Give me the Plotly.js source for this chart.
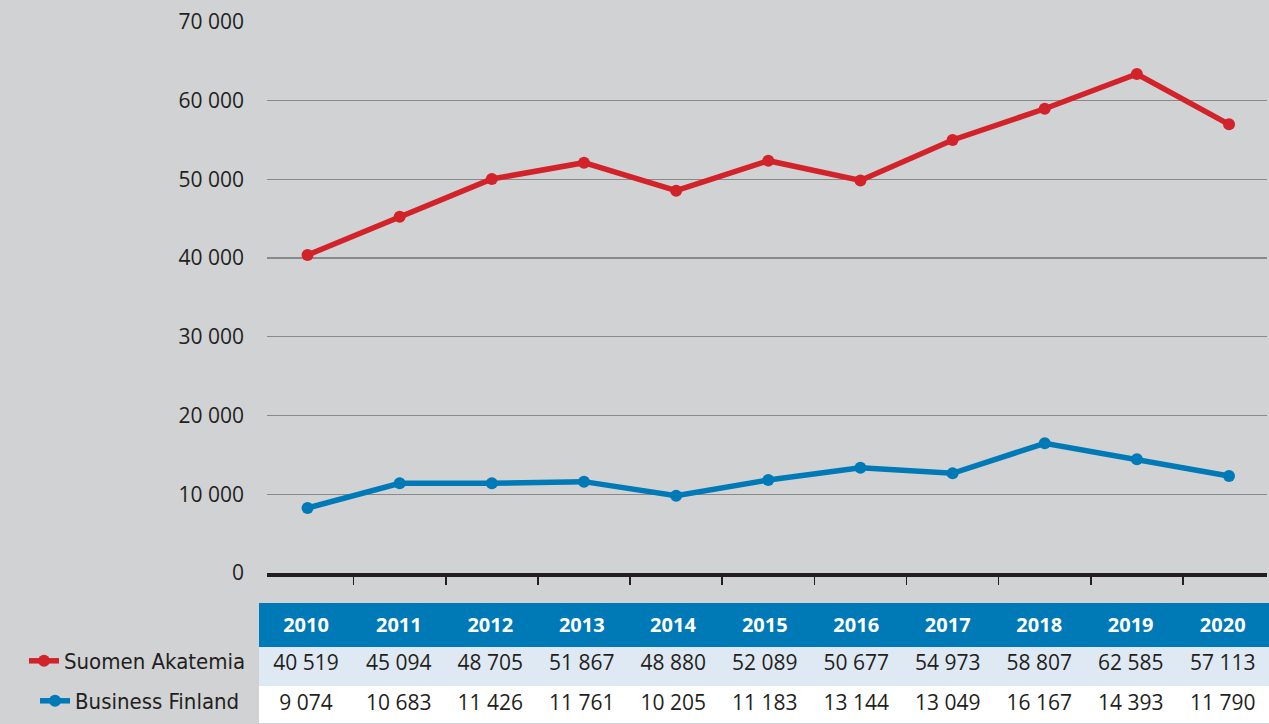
<!DOCTYPE html>
<html>
<head>
<meta charset="utf-8">
<script src="https://cdn.plot.ly/plotly-3.0.1.min.js"></script>
<style>
html,body{margin:0;padding:0;background:#d1d2d4;}
#chart{width:1269px;height:724px;}
</style>
</head>
<body>
<div id="chart"></div>
<script>
// Years (categories)
const years = [2010, 2011, 2012, 2013, 2014, 2015, 2016, 2017, 2018, 2019, 2020];
// Values as plotted in the line chart
const suomenAkatemiaPlot = [40380, 45240, 50030, 52100, 48540, 52350, 49850, 54980, 58950, 63360, 56970];
const businessFinlandPlot = [8250, 11390, 11390, 11600, 9820, 11810, 13370, 12660, 16470, 14440, 12320];
// Values printed in the table below the chart
const suomenAkatemiaTable = ['40 519', '45 094', '48 705', '51 867', '48 880', '52 089', '50 677', '54 973', '58 807', '62 585', '57 113'];
const businessFinlandTable = ['9 074', '10 683', '11 426', '11 761', '10 205', '11 183', '13 144', '13 049', '16 167', '14 393', '11 790'];
const seriesNames = ['Suomen Akatemia', 'Business Finland'];
const yTicks = [0, 10000, 20000, 30000, 40000, 50000, 60000, 70000];

const RED = '#d2232a';
const BLUE = '#0079b7';
const INK = '#231f20';
const ROW1 = '#dfe9f3';
const ROW2 = '#ffffff';
const W = 1269, H = 724;

const boundaries = years.slice(0, -1).map(y => y + 0.5);
const nb = s => s.replace(/ /g, '\u00a0');

const traces = [
  {
    type: 'scatter', mode: 'lines+markers', name: seriesNames[0],
    x: years, y: suomenAkatemiaPlot,
    line: {color: RED, width: 5.5},
    marker: {color: RED, size: 12},
    legend: 'legend', hoverinfo: 'x+y'
  },
  {
    type: 'scatter', mode: 'lines+markers', name: seriesNames[1],
    x: years, y: businessFinlandPlot,
    line: {color: BLUE, width: 5.5},
    marker: {color: BLUE, size: 12},
    legend: 'legend2', hoverinfo: 'x+y'
  },
  {
    type: 'table',
    domain: {x: [259 / W, 1], y: [0, 1 - 603 / H]},
    columnwidth: [94, 91.4, 91.4, 91.4, 91.4, 91.4, 91.4, 91.4, 91.4, 91.4, 92.5],
    header: {
      values: years.map(y => '<b>' + y + '</b>'),
      height: 38,
      align: 'center',
      fill: {color: BLUE},
      line: {color: BLUE, width: 1},
      font: {family: 'Open Sans', size: 20, color: '#ffffff'}
    },
    cells: {
      values: years.map((y, i) => [nb(suomenAkatemiaTable[i]), nb(businessFinlandTable[i])]),
      height: 40,
      align: 'center',
      fill: {color: years.map(() => [ROW1, ROW2])},
      line: {color: years.map(() => [ROW1, ROW2]), width: 1},
      font: {family: 'Open Sans', size: 21, color: INK}
    }
  }
];

const legendCommon = {
  xref: 'container', yref: 'container',
  xanchor: 'left', yanchor: 'middle',
  bgcolor: 'rgba(0,0,0,0)', borderwidth: 0,
  font: {family: 'DejaVu Sans Condensed, Liberation Sans Narrow, Roboto', size: 22, color: INK},
  itemwidth: 30
};

const layout = {
  width: W, height: H,
  margin: {l: 0, r: 0, t: 0, b: 0, pad: 0, autoexpand: false},
  paper_bgcolor: '#d1d2d4',
  plot_bgcolor: '#d1d2d4',
  separators: ', ',
  showlegend: true,
  xaxis: {
    domain: [267 / W, 1267 / W],
    range: [2009.56, 2020.412],
    showline: true, linewidth: 4, linecolor: INK,
    ticks: 'outside', ticklen: 8, tickwidth: 1.5, tickcolor: INK,
    tickmode: 'array', tickvals: boundaries,
    showticklabels: false, showgrid: false, zeroline: false,
    automargin: false, fixedrange: true
  },
  yaxis: {
    domain: [1 - 573 / H, 1 - 21.7 / H],
    range: [0, 70000],
    tickmode: 'array', tickvals: yTicks,
    tickformat: ',d',
    showgrid: true, gridcolor: '#88898b', gridwidth: 1.3,
    zeroline: false, showline: false,
    ticks: '', ticklabelstandoff: 22,
    tickfont: {family: 'Open Sans', size: 21, color: INK},
    automargin: false, fixedrange: true
  },
  legend: Object.assign({}, legendCommon, {x: 24 / W, y: 1 - 661 / H}),
  legend2: Object.assign({}, legendCommon, {x: 35 / W, y: 1 - 701 / H})
};

Plotly.newPlot('chart', traces, layout, {displayModeBar: false, staticPlot: true});
</script>
</body>
</html>
